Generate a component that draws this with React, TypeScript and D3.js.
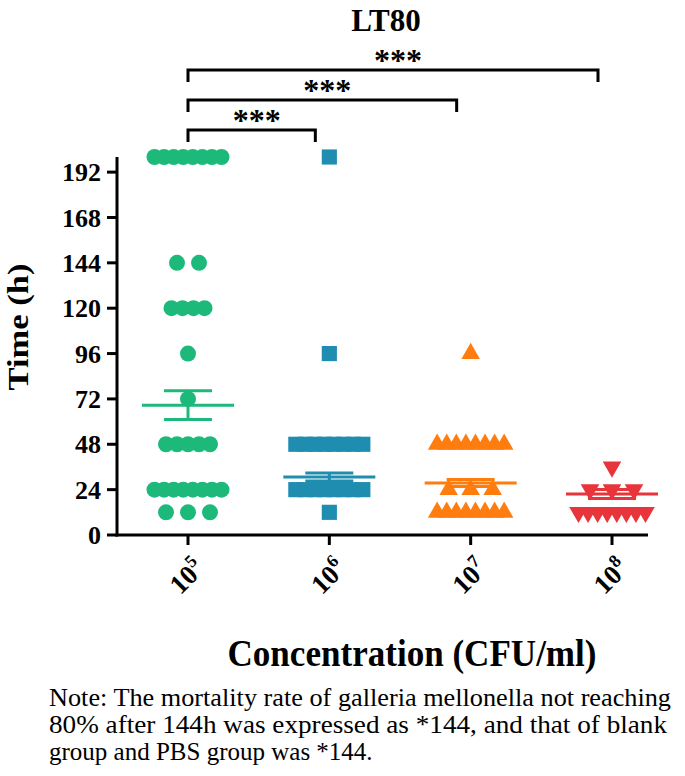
import React from 'react';
import * as d3 from 'd3';

const W = 685;
const H = 776;

const categories = ['1e5', '1e6', '1e7', '1e8'];
const categoryExponents = ['5', '6', '7', '8'];

// observations (h) for each concentration group
const obs1e5 = [200, 200, 200, 200, 200, 200, 200, 200, 144, 144, 120, 120, 120, 120, 96, 72,
  48, 48, 48, 48, 48, 24, 24, 24, 24, 24, 24, 24, 24, 12, 12, 12];
const obs1e6 = [200, 96, 48, 48, 48, 48, 48, 48, 48, 48, 24, 24, 24, 24, 24, 24, 24, 24, 12];
const obs1e7 = [96, 48, 48, 48, 48, 48, 48, 48, 48, 24, 24, 24, 12, 12, 12, 12, 12, 12, 12, 12];
const obs1e8 = [36, 24, 24, 24, 12, 12, 12, 12, 12, 12, 12, 12];
const groupObservations = [obs1e5, obs1e6, obs1e7, obs1e8];

const groupMeans = [68.7, 30.7, 27.5, 21.7];
const groupSems = [7.6, 2.1, 1.9, 2.4];
const groupColors = ['#1db97b', '#1f8db0', '#ff7d0f', '#e8343b'];

const yTickValues = [0, 24, 48, 72, 96, 120, 144, 168, 192];
const comparisonPairs = [[0, 1], [0, 2], [0, 3]];
const comparisonLabels = ['***', '***', '***'];

const titleText = 'LT80';
const yAxisTitle = 'Time (h)';
const xAxisTitle = 'Concentration (CFU/ml)';
const noteLines = [
  'Note: The mortality rate of galleria mellonella not reaching',
  '80% after 144h was expressed as *144, and that of blank',
  'group and PBS group was *144.',
];
const noteLineWidths = [622, 618, 0];

const serif = "'Liberation Serif', 'Times New Roman', 'DejaVu Serif', serif";

export default function App() {
  const axisLeft = 117;
  const axisRight = 648;
  const plotBottom = 535;
  const plotTop = 157;

  const x = d3.scalePoint<string>().domain(categories).range([188, 612]);
  const y = d3.scaleLinear().domain([0, 200]).range([plotBottom, plotTop]);

  const symbolTypes = [d3.symbolCircle, d3.symbolSquare, d3.symbolTriangle, d3.symbolTriangle];
  const symbolSizes = [201, 230, 150, 150];
  const symbolRotations = [0, 0, 0, 180];

  const maxSpread = 67;

  const points: { cx: number; cy: number; g: number }[] = [];
  groupObservations.forEach((obs, g) => {
    const rows = d3.group(obs, (v) => v);
    rows.forEach((vals, v) => {
      const n = vals.length;
      const s = n <= 3 ? 22 : Math.min(11, maxSpread / (n - 1));
      vals.forEach((_, i) => {
        points.push({ cx: (x(categories[g]) as number) + (i - (n - 1) / 2) * s, cy: y(v), g });
      });
    });
  });

  const meanHalf = 46;
  const capHalf = 24;

  return (
    <svg width={W} height={H} style={{ position: 'absolute', left: 0, top: 0, background: '#fff' }}
      fontFamily={serif}>
      <rect x={0} y={0} width={W} height={H} fill="#fff" />
      {/* title */}
      <text x={386} y={31} textAnchor="middle" fontWeight="bold" fontSize={31}>{titleText}</text>

      {/* significance brackets */}
      {comparisonPairs.map(([a, b], k) => {
        const x1 = x(categories[a]) as number;
        const x2 = (x(categories[b]) as number) - 14;
        const by = 130 - k * 30;
        return (
          <g key={'br' + k}>
            <path d={`M${x1},${by + 12}V${by}H${x2}V${by + 12}`} fill="none" stroke="#000" strokeWidth={3} />
            <text x={(x1 + x2) / 2 + 5} y={by + 1} textAnchor="middle" fontWeight="bold" fontSize={32}>
              {comparisonLabels[k]}
            </text>
          </g>
        );
      })}

      {/* points */}
      {points.map((p, i) => (
        <path key={'p' + i}
          d={d3.symbol().type(symbolTypes[p.g]).size(symbolSizes[p.g])() as string}
          transform={`translate(${p.cx},${p.cy}) rotate(${symbolRotations[p.g]})`}
          fill={groupColors[p.g]} />
      ))}

      {/* mean and SEM */}
      {categories.map((c, g) => {
        const cx = x(c) as number;
        const m = y(groupMeans[g]);
        const hi = y(groupMeans[g] + groupSems[g]);
        const lo = y(groupMeans[g] - groupSems[g]);
        return (
          <g key={'m' + g} stroke={groupColors[g]} strokeWidth={3} fill="none">
            <line x1={cx - meanHalf} x2={cx + meanHalf} y1={m} y2={m} />
            <line x1={cx} x2={cx} y1={hi} y2={lo} />
            <line x1={cx - capHalf} x2={cx + capHalf} y1={hi} y2={hi} />
            <line x1={cx - capHalf} x2={cx + capHalf} y1={lo} y2={lo} />
          </g>
        );
      })}

      {/* y axis */}
      <line x1={axisLeft} x2={axisLeft} y1={plotTop} y2={plotBottom + 1.5} stroke="#000" strokeWidth={3} />
      {yTickValues.map((t) => (
        <g key={'yt' + t}>
          <line x1={axisLeft - 10} x2={axisLeft} y1={y(t)} y2={y(t)} stroke="#000" strokeWidth={3} />
          <text x={axisLeft - 16} y={y(t)} dy="0.35em" textAnchor="end" fontWeight="bold" fontSize={26}>{t}</text>
        </g>
      ))}
      <text transform={`translate(28,327) rotate(-90)`} textAnchor="middle" fontWeight="bold" fontSize={29}
        textLength={127} lengthAdjust="spacingAndGlyphs">{yAxisTitle}</text>

      {/* x axis */}
      <line x1={axisLeft - 1.5} x2={axisRight} y1={plotBottom} y2={plotBottom} stroke="#000" strokeWidth={3} />
      {categories.map((c, g) => {
        const cx = x(c) as number;
        return (
          <g key={'xt' + g}>
            <line x1={cx} x2={cx} y1={plotBottom} y2={plotBottom + 10} stroke="#000" strokeWidth={3} />
            <text transform={`translate(${cx + 18},${570}) rotate(-45)`} textAnchor="end" fontWeight="bold" fontSize={27}>
              10<tspan fontSize={18} dy={-11}>{categoryExponents[g]}</tspan>
            </text>
          </g>
        );
      })}
      <text x={412} y={666} textAnchor="middle" fontWeight="bold" fontSize={37}
        textLength={369} lengthAdjust="spacingAndGlyphs">{xAxisTitle}</text>

      {/* note */}
      {noteLines.map((l, i) => (
        <text key={'n' + i} x={49} y={706 + i * 27} fontSize={25}
          textLength={noteLineWidths[i] || undefined} lengthAdjust="spacingAndGlyphs">{l}</text>
      ))}
    </svg>
  );
}
